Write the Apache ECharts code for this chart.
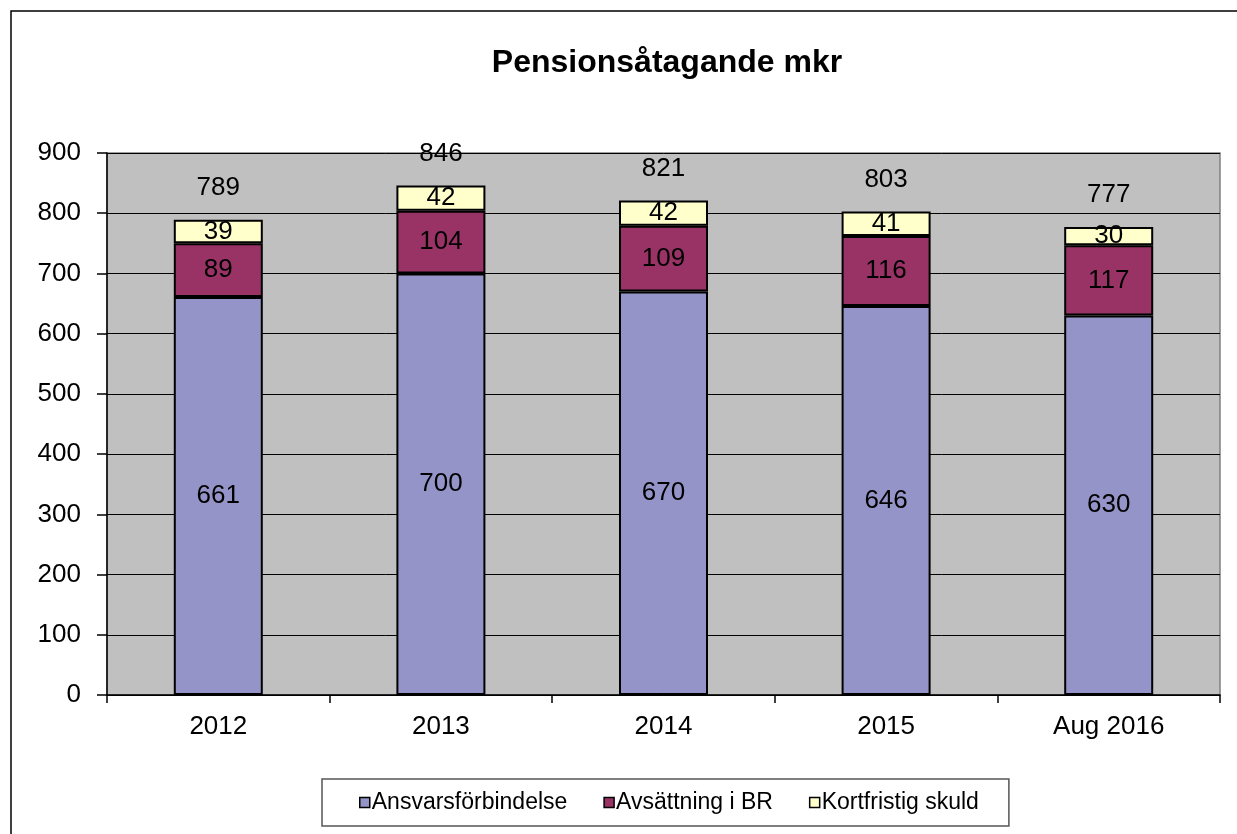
<!DOCTYPE html>
<html>
<head>
<meta charset="utf-8">
<script src="https://cdn.jsdelivr.net/npm/echarts@6/dist/echarts.min.js"></script>
<style>
  html, body { margin: 0; padding: 0; background: #fff; }
  #chart-panel { width: 1237px; height: 834px; }
</style>
</head>
<body>
<div id="chart-panel"></div>
<script>
/* data */
const years = ['2012', '2013', '2014', '2015', 'Aug 2016']
const ansvar = [661, 700, 670, 646, 630]
const avsattning = [89, 104, 109, 116, 117]
const kortfristig = [39, 42, 42, 41, 30]
const totals = [789, 846, 821, 803, 777]
const seriesNames = ['Ansvarsförbindelse', 'Avsättning i BR', 'Kortfristig skuld']
const yTicks = { min: 0, max: 900, step: 100 }

! function(){
    const font = 'Arial, "Liberation Sans", sans-serif'
    const colors = ['#9494C8', '#993366', '#FFFFCC']

    /* segment label, centred in bar. */
    function segLabel() {
        return {
            show: true,
            position: 'inside',
            color: '#000',
            fontFamily: font,
            fontSize: 26
        }
    }

    function stackSeries(name, data, color) {
        return {
            name: name,
            type: 'bar',
            stack: 'pension',
            barWidth: 89,
            data: data,
            itemStyle: { color: color, borderColor: '#000', borderWidth: 2 },
            label: segLabel(),
            emphasis: { disabled: true }
        }
    }

    let myChart = echarts.init(document.getElementById('chart-panel'), null, { renderer: 'canvas' })
    myChart.setOption({
        animation: false,
        backgroundColor: '#fff',
        textStyle: { fontFamily: font },
        title: {
            text: 'Pensionsåtagande mkr',
            left: 662,
            top: 42,
            textAlign: 'center',
            textStyle: { fontFamily: font, fontSize: 32, fontWeight: 'bold', color: '#000' }
        },
        graphic: [{
            type: 'rect',
            shape: { x: 11, y: 11, width: 1260, height: 860 },
            style: { fill: 'none', stroke: '#000', lineWidth: 1.5 },
            silent: true
        }],
        legend: {
            data: seriesNames,
            left: 322,
            top: 779,
            orient: 'horizontal',
            icon: 'rect',
            itemWidth: 10,
            itemHeight: 10,
            itemGap: 36,
            padding: [12, 30, 12, 37],
            backgroundColor: '#fff',
            borderColor: '#555',
            borderWidth: 1.5,
            borderRadius: 0,
            itemStyle: { borderColor: '#000', borderWidth: 1.5 },
            textStyle: { fontFamily: font, fontSize: 23, color: '#000', padding: [0, 0, 0, -3] }
        },
        grid: {
            left: 107,
            right: 17,
            top: 153,
            bottom: 139,
            show: true,
            backgroundColor: '#C0C0C0',
            borderColor: '#808080',
            borderWidth: 1.5
        },
        xAxis: {
            type: 'category',
            data: years,
            axisLine: { lineStyle: { color: '#000', width: 1.5 } },
            axisTick: { show: true, alignWithLabel: false, length: 8, lineStyle: { color: '#000', width: 1.5 } },
            axisLabel: { color: '#000', fontFamily: font, fontSize: 26, margin: 19 },
            splitLine: { show: false }
        },
        yAxis: {
            type: 'value',
            min: yTicks.min,
            max: yTicks.max,
            interval: yTicks.step,
            axisLine: { show: true, lineStyle: { color: '#000', width: 1.5 } },
            axisTick: { show: true, length: 10, lineStyle: { color: '#000', width: 1.5 } },
            axisLabel: { color: '#000', fontFamily: font, fontSize: 26, margin: 26 },
            splitLine: { show: true, lineStyle: { color: '#000', width: 1 } }
        },
        series: [
            stackSeries(seriesNames[0], ansvar, colors[0]),
            stackSeries(seriesNames[1], avsattning, colors[1]),
            stackSeries(seriesNames[2], kortfristig, colors[2]),
            /* totals above each bar. */
            {
                name: 'Summa',
                type: 'scatter',
                data: totals,
                symbolSize: 0,
                silent: true,
                itemStyle: { opacity: 1 },
                label: {
                    show: true,
                    position: 'top',
                    distance: 19,
                    color: '#000',
                    opacity: 1,
                    fontFamily: font,
                    fontSize: 26
                }
            }
        ]
    })
}()
</script>
</body>
</html>
